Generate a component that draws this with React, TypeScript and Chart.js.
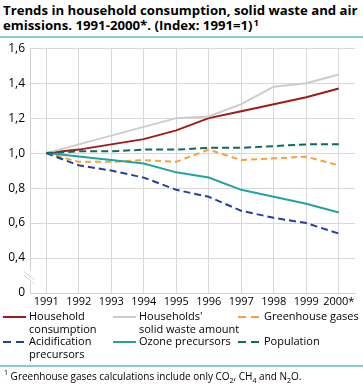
import React, { useEffect, useRef } from "react";
import { Chart, registerables } from "chart.js";

Chart.register(...registerables);

const years = ["1991", "1992", "1993", "1994", "1995", "1996", "1997", "1998", "1999", "2000*"];
const householdConsumption = [1.0, 1.02, 1.05, 1.08, 1.13, 1.2, 1.24, 1.28, 1.32, 1.37];
const solidWaste = [1.0, 1.05, 1.1, 1.15, 1.2, 1.21, 1.28, 1.38, 1.4, 1.45];
const greenhouseGases = [1.0, 0.95, 0.95, 0.96, 0.95, 1.02, 0.96, 0.97, 0.98, 0.93];
const acidification = [1.0, 0.93, 0.9, 0.86, 0.79, 0.75, 0.67, 0.63, 0.6, 0.54];
const ozone = [1.0, 0.98, 0.96, 0.94, 0.89, 0.86, 0.79, 0.75, 0.71, 0.66];
const population = [1.0, 1.01, 1.01, 1.02, 1.02, 1.03, 1.03, 1.04, 1.05, 1.05];

const C_RED = "#9e1b1b";
const C_GREY = "#cccccc";
const C_ORANGE = "#f7a03c";
const C_BLUE = "#24409a";
const C_TEAL = "#22a3a0";
const C_DTEAL = "#0f6a60";
const RULE = "#85cccb";
const FONT = "'Open Sans', 'DejaVu Sans', sans-serif";

const breakPlugin = {
  id: "axisBreak",
  afterDraw(chart: any) {
    const ctx = chart.ctx;
    const y = chart.scales.y;
    const x0 = chart.chartArea.left;
    const yA = y.getPixelForValue(0.4);
    const yB = y.getPixelForValue(0.2);
    const mid = (yA + yB) / 2 + 2;
    ctx.save();
    ctx.fillStyle = "#ffffff";
    ctx.fillRect(x0 - 2, mid - 7, 4, 12);
    ctx.strokeStyle = "#cfcfcf";
    ctx.lineWidth = 1;
    ctx.beginPath();
    ctx.moveTo(x0 - 6, mid - 6);
    ctx.lineTo(x0 + 4, mid + 2);
    ctx.moveTo(x0 - 6, mid - 2);
    ctx.lineTo(x0 + 4, mid + 6);
    ctx.stroke();
    ctx.restore();
  },
};

function Swatch({ color, dash }: { color: string; dash?: string }) {
  return (
    <svg width={23} height={4} style={{ display: "block" }}>
      <line x1={0} y1={2} x2={23} y2={2} stroke={color} strokeWidth={2} strokeDasharray={dash} />
    </svg>
  );
}

function LegendItem({ left, top, color, dash, lines, gap }: any) {
  return (
    <div style={{ position: "absolute", left, top, display: "flex", alignItems: "flex-start" }}>
      <div style={{ marginTop: 5, width: 23 }}>
        <Swatch color={color} dash={dash} />
      </div>
      <div style={{ marginLeft: gap || 3, fontSize: 11, lineHeight: "12.5px", whiteSpace: "nowrap" }}>
        {lines.map((l: string, i: number) => (
          <div key={i}>{l}</div>
        ))}
      </div>
    </div>
  );
}

export default function App() {
  const ref = useRef<HTMLCanvasElement>(null);
  useEffect(() => {
    const mk = (label: string, data: number[], color: string, dash?: number[]) => ({
      label,
      data,
      borderColor: color,
      backgroundColor: color,
      borderWidth: 2,
      borderDash: dash || [],
      pointRadius: 0,
      tension: 0,
      fill: false,
    });
    const chart = new Chart(ref.current!, {
      type: "line",
      data: {
        labels: years,
        datasets: [
          mk("Household consumption", householdConsumption, C_RED),
          mk("Households' solid waste amount", solidWaste, C_GREY),
          mk("Greenhouse gases", greenhouseGases, C_ORANGE, [6, 4]),
          mk("Acidification precursors", acidification, C_BLUE, [7, 4]),
          mk("Ozone precursors", ozone, C_TEAL),
          mk("Population", population, C_DTEAL, [7, 4]),
        ].reverse(),
      },
      options: {
        animation: false,
        responsive: false,
        layout: { padding: { top: 9, right: 8, left: 0, bottom: 0 } },
        plugins: { legend: { display: false }, title: { display: false }, tooltip: { enabled: false } },
        scales: {
          x: {
            offset: true,
            grid: { offset: false, color: "#d9d9d9", drawTicks: false },
            border: { color: "#d0d0d0" },
            ticks: {
              autoSkip: false,
              maxRotation: 0,
              padding: 2,
              color: "#000",
              font: { family: FONT, size: 11 },
            },
            afterFit: (s: any) => {
              s.height = 17;
            },
          },
          y: {
            min: 0.2,
            max: 1.6,
            grid: { color: "#d9d9d9", drawTicks: false },
            border: { color: "#d0d0d0" },
            ticks: {
              stepSize: 0.2,
              padding: 5,
              color: "#000",
              font: { family: FONT, size: 12 },
              callback: (v: any) => {
                const n = Number(v);
                if (Math.abs(n - 0.2) < 1e-6) return "0";
                return n.toFixed(1).replace(".", ",");
              },
            },
            afterFit: (s: any) => {
              s.width = 30;
            },
          },
        },
      },
      plugins: [breakPlugin],
    });
    return () => chart.destroy();
  }, []);

  return (
    <div
      style={{
        position: "absolute",
        left: 0,
        top: 0,
        width: 363,
        height: 387,
        background: "#fff",
        fontFamily: FONT,
        color: "#000",
        overflow: "hidden",
      }}
    >
      <div
        style={{
          position: "absolute",
          left: 3,
          top: 3,
          width: 360,
          fontWeight: "bold",
          fontSize: 13.2,
          lineHeight: "15px",
          whiteSpace: "nowrap",
        }}
      >
        Trends in household consumption, solid waste and air
        <br />
        emissions. 1991-2000*. (Index: 1991=1)<sup style={{ fontSize: 9.5, verticalAlign: "top", lineHeight: "10px", marginLeft: 1 }}>1</sup>
      </div>
      <div style={{ position: "absolute", left: 0, top: 36, width: 363, height: 2, background: RULE }} />
      <canvas ref={ref} width={363} height={274} style={{ position: "absolute", left: 0, top: 36 }} />
      <LegendItem left={3} top={310} color={C_RED} lines={["Household", "consumption"]} />
      <LegendItem left={113} top={310} color={C_GREY} lines={["Households'", "solid waste amount"]} />
      <LegendItem left={238} top={310} color={C_ORANGE} dash="8 5" lines={["Greenhouse gases"]} />
      <LegendItem left={3} top={335} color={C_BLUE} dash="8 5" lines={["Acidification", "precursors"]} />
      <LegendItem left={113} top={335} color={C_TEAL} lines={["Ozone precursors"]} />
      <LegendItem left={238} top={335} color={C_DTEAL} dash="8 5" lines={["Population"]} />
      <div style={{ position: "absolute", left: 0, top: 365, width: 363, height: 2, background: RULE }} />
      <div style={{ position: "absolute", left: 4, top: 369, fontSize: 10, lineHeight: "14px", whiteSpace: "nowrap" }}>
        <sup style={{ fontSize: 7, verticalAlign: "top", lineHeight: "8px" }}>1</sup> Greenhouse gases calculations include only CO
        <sub style={{ fontSize: 7, verticalAlign: "-3px", lineHeight: "8px" }}>2</sub>, CH
        <sub style={{ fontSize: 7, verticalAlign: "-3px", lineHeight: "8px" }}>4</sub> and N
        <sub style={{ fontSize: 7, verticalAlign: "-3px", lineHeight: "8px" }}>2</sub>O.
      </div>
    </div>
  );
}
